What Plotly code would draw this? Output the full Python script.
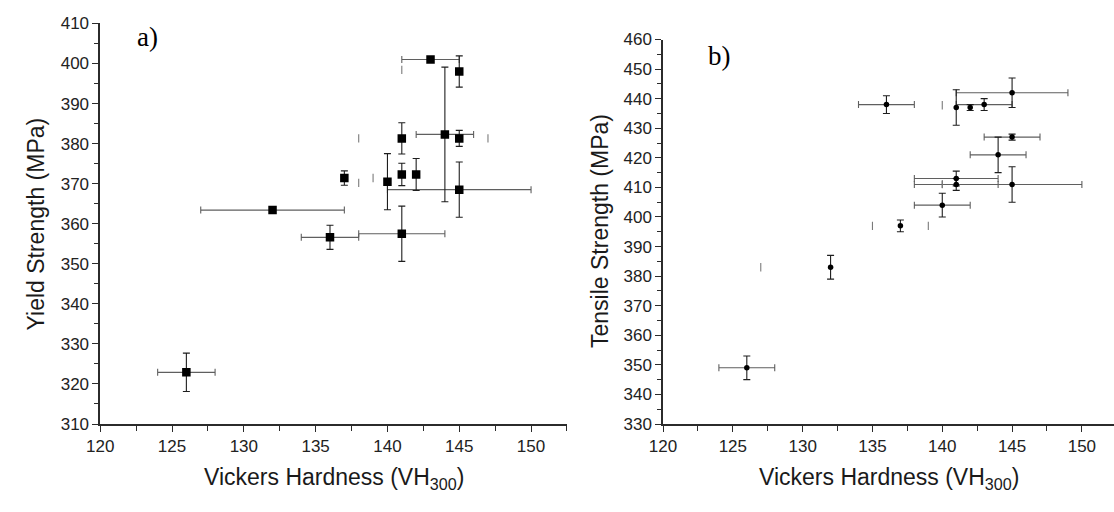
import plotly.graph_objects as go

W, H = 1114, 512

# ---------------- Panel a: Yield strength vs Vickers hardness ----------------
a_hv = [143, 145, 144, 145, 141, 141, 142, 137, 140, 145, 132, 136, 141, 126]
a_ys = [401, 398, 382.3, 381.3, 381.3, 372.3, 372.3, 371.4, 370.5, 368.5, 363.4, 356.6, 357.5, 322.9]
a_xerr = [2, 0, 2, 0, 0, 0, 0, 0, 0, 5, 5, 2, 3, 2]
a_yerr = [0, 3.9, 16.8, 2, 3.9, 2.8, 4, 1.8, 7, 6.9, 0, 3, 6.9, 4.8]
# detached error-bar caps visible in the figure
a_cap_x = [141, 138, 147, 138, 139]
a_cap_y = [398.4, 381.3, 381.3, 370.2, 371.4]

# ---------------- Panel b: Tensile strength vs Vickers hardness ----------------
b_hv = [136, 141, 142, 143, 145, 145, 144, 141, 141, 145, 140, 137, 132, 126]
b_ts = [438, 437, 437, 438, 442, 427, 421, 413, 411, 411, 404, 397, 383, 349]
b_xerr = [2, 0, 0, 2, 4, 2, 2, 3, 3, 5, 2, 0, 0, 2]
b_yerr = [3, 6, 1, 2, 5, 1, 6, 2.5, 2, 6, 4, 2, 4, 4]
b_cap_x = [140, 140, 135, 139, 127]
b_cap_y = [437.8, 411.1, 397, 397, 383]

x_tickvals = [120, 125, 130, 135, 140, 145, 150]


def px_x(p):
    return p / W


def px_y(p):
    return (H - p) / H


XERR_COL = "#5f5f5f"
YERR_COL = "#1e1e1e"
AX_COL = "#2b2b2b"
FONT = "Liberation Sans, Arial, sans-serif"

fig = go.Figure()


def add_panel(xs, ys, xerr, yerr, capx, capy, xa, ya, symbol, msize):
    ix = [i for i, v in enumerate(xerr) if v > 0]
    iy = [i for i, v in enumerate(yerr) if v > 0]
    fig.add_trace(go.Scatter(
        x=[xs[i] for i in ix], y=[ys[i] for i in ix], mode="markers",
        marker=dict(size=1, opacity=0), xaxis=xa, yaxis=ya, showlegend=False,
        error_x=dict(type="data", array=[xerr[i] for i in ix], visible=True,
                     color=XERR_COL, thickness=1.1, width=3.5),
        hoverinfo="skip"))
    fig.add_trace(go.Scatter(
        x=[xs[i] for i in iy], y=[ys[i] for i in iy], mode="markers",
        marker=dict(size=1, opacity=0), xaxis=xa, yaxis=ya, showlegend=False,
        error_y=dict(type="data", array=[yerr[i] for i in iy], visible=True,
                     color=YERR_COL, thickness=1.1, width=3.5),
        hoverinfo="skip"))
    fig.add_trace(go.Scatter(
        x=capx, y=capy, mode="markers", xaxis=xa, yaxis=ya, showlegend=False,
        marker=dict(symbol="line-ns", size=6, line=dict(color="#7a7a7a", width=1.1)),
        hoverinfo="skip"))
    fig.add_trace(go.Scatter(
        x=xs, y=ys, mode="markers", xaxis=xa, yaxis=ya, showlegend=False,
        marker=dict(symbol=symbol, size=msize, color="black", line=dict(width=0))))


add_panel(a_hv, a_ys, a_xerr, a_yerr, a_cap_x, a_cap_y, "x", "y", "square", 8.5)
add_panel(b_hv, b_ts, b_xerr, b_yerr, b_cap_x, b_cap_y, "x2", "y2", "circle", 5.5)

tickfont = dict(family=FONT, size=17, color="#222")
common_x = dict(showline=True, linecolor=AX_COL, linewidth=1.5, ticks="outside",
                ticklen=6, tickwidth=1.3, tickcolor=AX_COL, tickvals=x_tickvals,
                showgrid=False, zeroline=False, tickfont=tickfont,
                minor=dict(ticks="outside", ticklen=5, tickwidth=1.1, tickcolor=AX_COL,
                           dtick=2.5, tick0=120, showgrid=False))
common_y = dict(showline=True, linecolor=AX_COL, linewidth=1.5, ticks="outside",
                ticklen=6, tickwidth=1.3, tickcolor=AX_COL, dtick=10,
                showgrid=False, zeroline=False, tickfont=tickfont,
                minor=dict(ticks="outside", ticklen=4, tickwidth=1.1, tickcolor=AX_COL,
                           dtick=5, showgrid=False))

fig.update_layout(
    width=W, height=H, margin=dict(l=0, r=0, t=0, b=0),
    paper_bgcolor="white", plot_bgcolor="white",
    xaxis=dict(domain=[px_x(87.3), px_x(560)], range=[120, 152.5], anchor="y", **common_x),
    yaxis=dict(domain=[px_y(431), px_y(15)], range=[310, 410], anchor="x", tick0=310, **common_y),
    xaxis2=dict(domain=[px_x(657.3), 1.0], range=[120, 152.3], anchor="y2", **common_x),
    yaxis2=dict(domain=[px_y(431), px_y(31.7)], range=[330, 460], anchor="x2", tick0=330, **common_y),
)

title_font = dict(family=FONT, size=23, color="#1a1a1a")
ann = [
    dict(text="Vickers Hardness (VH<sub>300</sub>)", x=px_x(323.6), y=px_y(488)),
    dict(text="Vickers Hardness (VH<sub>300</sub>)", x=px_x(886), y=px_y(488)),
    dict(text="Yield Strength (MPa)", x=px_x(22), y=px_y(223), textangle=-90),
    dict(text="Tensile Strength (MPa)", x=px_x(594), y=px_y(231), textangle=-90),
]
for a in ann:
    fig.add_annotation(xref="paper", yref="paper", showarrow=False,
                       xanchor="center", yanchor="middle", font=title_font, **a)

panel_font = dict(family="Liberation Serif, Times New Roman, serif", size=27, color="black")
fig.add_annotation(text="a)", xref="paper", yref="paper", x=px_x(135), y=px_y(29),
                   showarrow=False, xanchor="center", yanchor="middle", font=panel_font)
fig.add_annotation(text="b)", xref="paper", yref="paper", x=px_x(714), y=px_y(49),
                   showarrow=False, xanchor="center", yanchor="middle", font=panel_font)

fig.write_html("out.html")
